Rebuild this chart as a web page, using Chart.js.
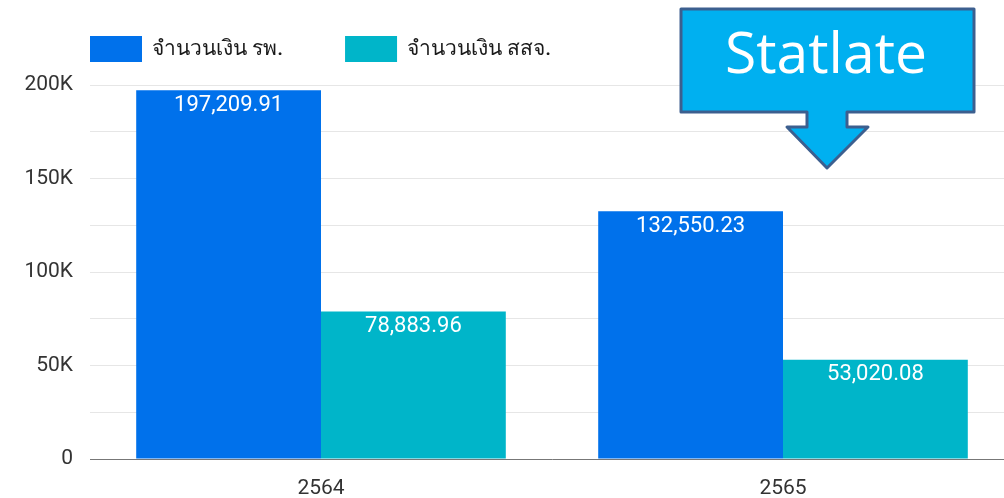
<!DOCTYPE html>
<html>
<head>
<meta charset="utf-8">
<script src="https://cdn.jsdelivr.net/npm/chart.js@4"></script>
<style>
  html, body { margin: 0; padding: 0; background: #fff; overflow: hidden; }
  #wrap { width: 1014px; height: 498px; }
</style>
</head>
<body>
<div id="wrap"><canvas id="chart" width="1014" height="498"></canvas></div>
<script>
/* global Chart */

const YEARS = ['2564', '2565'];
const SERIES_NAMES = ['จำนวนเงิน รพ.', 'จำนวนเงิน สสจ.'];
const HOSPITAL = [197209.91, 132550.23];
const PROVINCE = [78883.96, 53020.08];
const TICK_LABELS = ['0', '50K', '100K', '150K', '200K'];

const COLORS = ['#0071eb', '#00b5c9'];
const FONT = 'Roboto, "Liberation Sans", sans-serif';

const fmt = v => v.toLocaleString('en-US', { minimumFractionDigits: 2, maximumFractionDigits: 2 });

// legend drawn at the top-left, aligned with the plot area
const legendPlugin = {
  id: 'topLegend',
  afterDraw(chart) {
    const ctx = chart.ctx;
    let x = chart.chartArea.left;
    const y = 36;
    ctx.save();
    ctx.font = '500 21px ' + FONT;
    ctx.textBaseline = 'middle';
    chart.data.datasets.forEach(ds => {
      ctx.fillStyle = ds.backgroundColor;
      ctx.fillRect(x, y, 52, 26);
      ctx.fillStyle = '#1a1a1a';
      ctx.fillText(ds.label, x + 62, y + 14);
      x += 62 + ctx.measureText(ds.label).width + 62;
    });
    ctx.restore();
  },
};

// white value labels just inside the top of each bar
const valuePlugin = {
  id: 'values',
  afterDatasetsDraw(chart) {
    const ctx = chart.ctx;
    ctx.save();
    ctx.font = '22px ' + FONT;
    ctx.fillStyle = '#fff';
    ctx.textAlign = 'center';
    ctx.textBaseline = 'middle';
    chart.data.datasets.forEach((ds, i) => {
      chart.getDatasetMeta(i).data.forEach((bar, j) => {
        ctx.fillText(fmt(ds.data[j]), bar.x, bar.y + 15);
      });
    });
    ctx.restore();
  },
};

// "Statlate" callout box with down arrow
const calloutPlugin = {
  id: 'callout',
  afterDraw(chart) {
    const ctx = chart.ctx;
    ctx.save();
    ctx.beginPath();
    ctx.moveTo(681, 9);
    ctx.lineTo(974, 9);
    ctx.lineTo(974, 112);
    ctx.lineTo(847, 112);
    ctx.lineTo(847, 127);
    ctx.lineTo(868, 127);
    ctx.lineTo(827, 168);
    ctx.lineTo(787, 127);
    ctx.lineTo(807, 127);
    ctx.lineTo(807, 112);
    ctx.lineTo(681, 112);
    ctx.closePath();
    ctx.fillStyle = '#00b0f0';
    ctx.fill();
    ctx.lineWidth = 3;
    ctx.lineJoin = 'round';
    ctx.strokeStyle = '#3c5f8f';
    ctx.stroke();
    ctx.fillStyle = '#fff';
    ctx.font = '57px "Open Sans", sans-serif';
    ctx.textAlign = 'center';
    ctx.textBaseline = 'middle';
    ctx.fillText('Statlate', 826, 57);
    ctx.restore();
  },
};

new Chart(document.getElementById('chart').getContext('2d'), {
  type: 'bar',
  data: {
    labels: YEARS,
    datasets: [
      { label: SERIES_NAMES[0], data: HOSPITAL, backgroundColor: COLORS[0] },
      { label: SERIES_NAMES[1], data: PROVINCE, backgroundColor: COLORS[1] },
    ],
  },
  options: {
    responsive: false,
    animation: false,
    layout: { padding: { top: 85, left: 0, right: 0, bottom: 0 } },
    datasets: { bar: { barPercentage: 1, categoryPercentage: 0.8 } },
    plugins: { legend: { display: false }, tooltip: { enabled: false } },
    scales: {
      x: {
        grid: { display: false, drawTicks: false },
        border: { color: '#777', width: 1 },
        ticks: { color: '#333', font: { family: FONT, size: 21 }, padding: 17 },
        afterFit(scale) { scale.height = 39; },
      },
      y: {
        min: 0,
        max: 200000,
        border: { display: false },
        grid: { color: '#e6e6e6', lineWidth: 1, drawTicks: false },
        ticks: {
          stepSize: 25000,
          padding: 17,
          color: '#333',
          font: { family: FONT, size: 21 },
          callback: v => (v % 50000 === 0 ? TICK_LABELS[v / 50000] : ''),
        },
        afterFit(scale) { scale.width = 90; },
      },
    },
  },
  plugins: [legendPlugin, valuePlugin, calloutPlugin],
});
</script>
</body>
</html>
